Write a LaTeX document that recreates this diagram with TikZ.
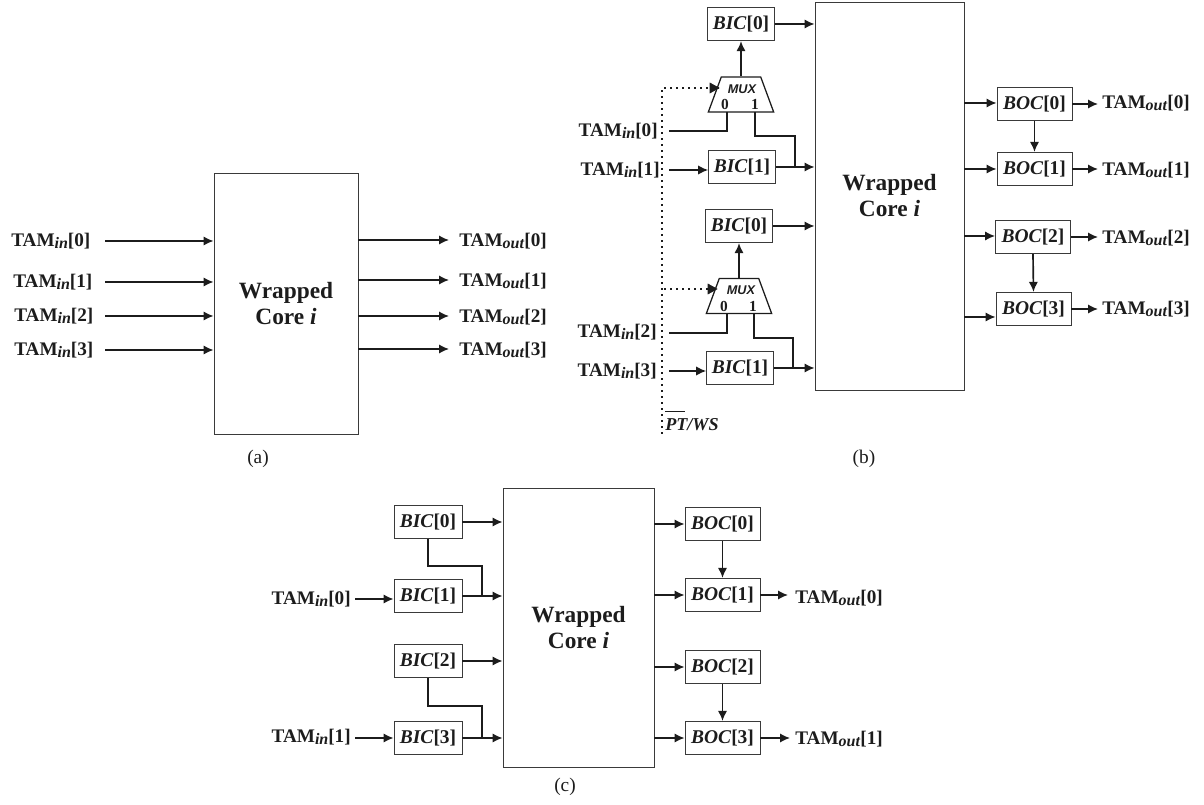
\documentclass[tikz,border=0pt]{standalone}
\usepackage{fontspec}
\setmainfont{Liberation Serif}
\newfontfamily\muxfont{Liberation Sans}
\usetikzlibrary{arrows.meta,shapes.geometric,calc}
\definecolor{ink}{HTML}{1C1C1C}
\definecolor{edge}{HTML}{3A3A3A}
\newcommand{\TIN}[1]{TAM\raisebox{-0.28ex}{\fontsize{12}{12}\selectfont\textit{in}}[#1]}
\newcommand{\TOUT}[1]{TAM\raisebox{-0.28ex}{\fontsize{12}{12}\selectfont\textit{out}}[#1]}
\newcommand{\BX}[2]{\textit{#1}[#2]}
\tikzset{
  corebox/.style={draw=edge,line width=0.7pt,inner sep=0pt,align=center,text=ink,
    font=\bfseries\fontsize{17.5}{19.5}\selectfont},
  cell/.style={draw=edge,line width=0.7pt,inner sep=0pt,minimum width=50pt,minimum height=25pt,
    text=ink,font=\bfseries\fontsize{14.6}{14.6}\selectfont},
  tam/.style={inner sep=0pt,text=ink,font=\bfseries\fontsize{14.4}{15}\selectfont},
  captxt/.style={inner sep=0pt,text=ink,font=\fontsize{14.5}{15}\selectfont},
  arr/.style={draw=ink,line width=1.25pt,-{Latex[length=7.5pt,width=7pt]}},
  wire/.style={draw=ink,line width=1.25pt},
  dots/.style={draw=ink,line width=1.4pt,dash pattern=on 1.5pt off 3pt},
  muxbox/.style={draw=ink,line width=0.95pt,trapezium,trapezium stretches=true,
    trapezium left angle=66,trapezium right angle=66,minimum width=49pt,minimum height=26.25pt,inner sep=0pt},
  muxtxt/.style={inner sep=0pt,text=ink,font=\muxfont\bfseries\itshape\fontsize{9.5}{10}\selectfont},
  pintxt/.style={inner sep=0pt,text=ink,font=\bfseries\fontsize{11.5}{12}\selectfont},
}
\begin{document}
\begin{tikzpicture}[x=0.75pt,y=-0.75pt]
\useasboundingbox (0,0) rectangle (1204,805);
% ---------- (a)
\node[corebox,minimum width=108pt,minimum height=195.75pt] (coreA) at (286,303.5) {Wrapped\\Core \textit{i}};
\node[tam,anchor=west] (ai0) at (11,241) {\TIN{0}};
\node[tam,anchor=west] (ai1) at (13,282) {\TIN{1}};
\node[tam,anchor=west] (ai2) at (14,316) {\TIN{2}};
\node[tam,anchor=west] (ai3) at (14,350) {\TIN{3}};
\node[tam,anchor=west] (ao0) at (459,241) {\TOUT{0}};
\node[tam,anchor=west] (ao1) at (459,281) {\TOUT{1}};
\node[tam,anchor=west] (ao2) at (459,317) {\TOUT{2}};
\node[tam,anchor=west] (ao3) at (459,350) {\TOUT{3}};
\coordinate (ac0) at (105,241);
\coordinate (ac1) at (105,282);
\coordinate (ac2) at (105,316);
\coordinate (ac3) at (105,350);
\foreach \i in {0,1,2,3} \draw[arr] (ac\i) -- (ac\i -| coreA.west);
\coordinate (ad0) at (449,240);
\coordinate (ad1) at (449,280);
\coordinate (ad2) at (449,316);
\coordinate (ad3) at (449,349);
\foreach \i in {0,1,2,3} \draw[arr] (ad\i -| coreA.east) -- (ad\i);
\node[captxt] (capA) at (258,459) {(a)};
% ---------- (b)
\node[corebox,minimum width=111.75pt,minimum height=291pt] (coreB) at (889.5,196) {Wrapped\\Core \textit{i}};
\node[cell] (b0) at (741,24) {\BX{BIC}{0}};
\node[cell] (b1) at (742,167) {\BX{BIC}{1}};
\node[cell] (b2) at (739,226) {\BX{BIC}{0}};
\node[cell] (b3) at (740,368) {\BX{BIC}{1}};
\node[muxbox] (m0) at (741,94.5) {\phantom{M}};
\node[muxbox] (m1) at (739,296) {\phantom{M}};
\node[muxtxt] (mt0) at (742,89) {MUX};
\node[muxtxt] (mt1) at (741,290) {MUX};
\node[pintxt] (p00) at (725,104) {0};
\node[pintxt] (p01) at (755,104) {1};
\node[pintxt] (p10) at (724,306) {0};
\node[pintxt] (p11) at (753,306) {1};
\node[tam,anchor=east] (bi0) at (658,131) {\TIN{0}};
\node[tam,anchor=east] (bi1) at (660,170) {\TIN{1}};
\node[tam,anchor=east] (bi2) at (657,332) {\TIN{2}};
\node[tam,anchor=east] (bi3) at (657,371) {\TIN{3}};
\node[inner sep=0pt,anchor=west,text=ink,font=\bfseries\itshape\fontsize{13.6}{14}\selectfont] (ptws) at (665,425) {\rlap{\smash{\rule[14pt]{15pt}{1pt}}}PT/WS};
\coordinate (bs0) at (669,131);
\coordinate (bs1) at (669,170);
\coordinate (bs2) at (669,333);
\coordinate (bs3) at (669,371);
\coordinate (dt) at (662,88);
\coordinate (db) at (662,434);
\coordinate (de0) at (719,88);
\coordinate (ds1) at (664,289);
\coordinate (de1) at (717,289);
\draw[dots] (db) -- (dt) -- (de0);
\draw[dots] (ds1) -- (de1);
\draw[ink,fill=ink] (de0) ++(-9,-5) -- ++(9,5) -- ++(-9,5) -- cycle;
\draw[ink,fill=ink] (de1) ++(-9,-5) -- ++(9,5) -- ++(-9,5) -- cycle;
\draw[arr] (m0.top side) -- (b0.south);
\draw[arr] (m1.top side) -- (b2.south);
\coordinate (mb00) at (727,112);
\coordinate (mb01) at (755,112);
\coordinate (mb10) at (727,314);
\coordinate (mb11) at (754,314);
\draw[wire] (bs0) -- (bs0 -| mb00) -- (mb00);
\draw[wire] (bs2) -- (bs2 -| mb10) -- (mb10);
\coordinate (j0) at (795,136);
\coordinate (j1) at (793,338);
\draw[wire] (mb01) -- (mb01 |- j0) -- (j0) -- (j0 |- b1.east);
\draw[wire] (mb11) -- (mb11 |- j1) -- (j1) -- (j1 |- b3.east);
\draw[arr] (bs1) -- (bs1 -| b1.west);
\draw[arr] (bs3) -- (bs3 -| b3.west);
\draw[arr] (b0.east) -- (b0.east -| coreB.west);
\draw[arr] (b1.east) -- (b1.east -| coreB.west);
\draw[arr] (b2.east) -- (b2.east -| coreB.west);
\draw[arr] (b3.east) -- (b3.east -| coreB.west);
\node[cell,minimum width=56.25pt] (bo0) at (1034.5,104) {\BX{BOC}{0}};
\node[cell,minimum width=56.25pt] (bo1) at (1034.5,169) {\BX{BOC}{1}};
\node[cell,minimum width=56.25pt] (bo2) at (1033,237) {\BX{BOC}{2}};
\node[cell,minimum width=56.25pt] (bo3) at (1033.5,309) {\BX{BOC}{3}};
\foreach \i/\y in {0/103,1/169,2/236,3/317} {
  \coordinate (bc\i) at (964,\y);
  \draw[arr] (bc\i) -- (bc\i -| bo\i.west);
}
\node[tam,anchor=west] (bt0) at (1102,103) {\TOUT{0}};
\node[tam,anchor=west] (bt1) at (1102,170) {\TOUT{1}};
\node[tam,anchor=west] (bt2) at (1102,238) {\TOUT{2}};
\node[tam,anchor=west] (bt3) at (1102,309) {\TOUT{3}};
\coordinate (bq) at (1098,0);
\foreach \i in {0,1,2,3} {
  \draw[arr] (bo\i.east) -- (bo\i.east -| bq);
}
\draw[arr] (bo0.south) -- (bo1.north);
\draw[arr] (bo2.south) -- (bo3.north);
\node[captxt] (capB) at (864,459) {(b)};
% ---------- (c)
\node[corebox,minimum width=113.25pt,minimum height=209.25pt] (coreC) at (578.5,627.5) {Wrapped\\Core \textit{i}};
\node[cell,minimum width=51pt] (c0) at (428,522) {\BX{BIC}{0}};
\node[cell,minimum width=51pt] (c1) at (428,596) {\BX{BIC}{1}};
\node[cell,minimum width=51pt] (c2) at (428,661) {\BX{BIC}{2}};
\node[cell,minimum width=51pt] (c3) at (428,738) {\BX{BIC}{3}};
\foreach \i in {0,1,2,3} \draw[arr] (c\i.east) -- (c\i.east -| coreC.west);
\coordinate (cj0) at (482,566);
\coordinate (cj1) at (482,706);
\draw[wire] (c0.south) -- (c0.south |- cj0) -- (cj0) -- (cj0 |- c1.east);
\draw[wire] (c2.south) -- (c2.south |- cj1) -- (cj1) -- (cj1 |- c3.east);
\node[tam,anchor=east] (ci0) at (351,599) {\TIN{0}};
\node[tam,anchor=east] (ci1) at (351,737) {\TIN{1}};
\coordinate (cs0) at (355,599);
\coordinate (cs1) at (355,738);
\draw[arr] (cs0) -- (cs0 -| c1.west);
\draw[arr] (cs1) -- (cs1 -| c3.west);
\node[cell,minimum width=56.25pt] (co0) at (722.5,524) {\BX{BOC}{0}};
\node[cell,minimum width=56.25pt] (co1) at (722.5,595) {\BX{BOC}{1}};
\node[cell,minimum width=56.25pt] (co2) at (722.5,667) {\BX{BOC}{2}};
\node[cell,minimum width=56.25pt] (co3) at (722.5,738) {\BX{BOC}{3}};
\foreach \i in {0,1,2,3} \draw[arr] (co\i.west -| coreC.east) -- (co\i.west);
\draw[arr] (co0.south) -- (co1.north);
\draw[arr] (co2.south) -- (co3.north);
\node[tam,anchor=west] (ct0) at (795,598) {\TOUT{0}};
\node[tam,anchor=west] (ct1) at (795,739) {\TOUT{1}};
\coordinate (cq0) at (788,596);
\coordinate (cq1) at (790,738);
\draw[arr] (co1.east) -- (co1.east -| cq0);
\draw[arr] (co3.east) -- (co3.east -| cq1);
\node[captxt] (capC) at (565,787) {(c)};
\end{tikzpicture}
\end{document}
